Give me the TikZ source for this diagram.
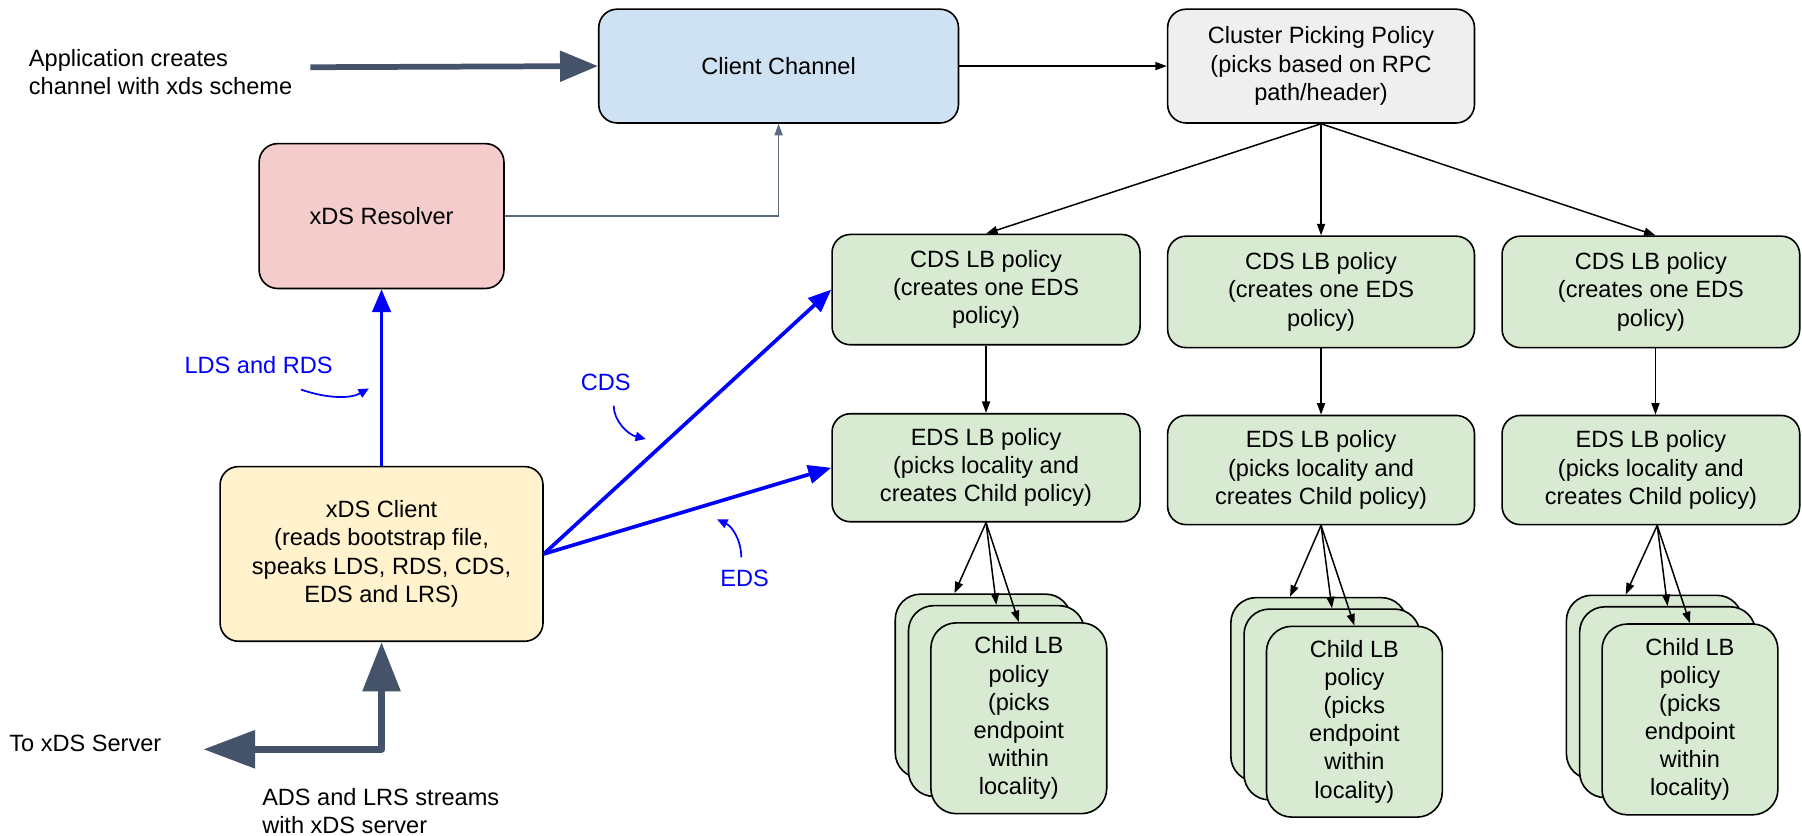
\documentclass[tikz,border=0pt]{standalone}
\usepackage{fontspec}
\setmainfont{Liberation Sans}
\usetikzlibrary{arrows.meta}
\definecolor{ccblue}{HTML}{CFE2F3}
\definecolor{cpgray}{HTML}{EFEFEF}
\definecolor{respink}{HTML}{F4CCCC}
\definecolor{clyellow}{HTML}{FFF2CC}
\definecolor{lbgreen}{HTML}{D9EAD3}
\definecolor{slate}{HTML}{45536A}
\definecolor{slatethin}{HTML}{5A6A80}
\newcommand\fsz{\fontsize{20.5}{24.5}\selectfont}
\begin{document}
\begin{tikzpicture}[x=1pt,y=-1pt,font=\fsz,inner sep=0pt,
  box/.style={draw=black,line width=1.4pt,rounded corners=16pt,align=center,inner sep=0pt,
    execute at begin node={\rule{0pt}{19.5pt}},
    execute at end node={\rule[-4.4pt]{0pt}{0pt}}},
  greenbox/.style={box,fill=lbgreen},
  childbox/.style={box,fill=lbgreen,minimum width=153pt,rounded corners=22pt},
  blk/.style={draw=black,line width=1.3pt,-{Triangle[length=10pt,width=7pt]}},
  bluearr/.style={draw=blue,line width=3.2pt,-{Triangle[length=20pt,width=16pt]}},
  bluethin/.style={draw=blue,line width=1.5pt,-{Triangle[length=9pt,width=8pt]}},
  lbl/.style={align=left,anchor=west,inner sep=0pt}]
\useasboundingbox (0,0) rectangle (1568,727);

% main boxes
\node[box,fill=ccblue,minimum width=313pt,minimum height=99pt] (cc) at (677.5,57.5) {Client Channel};
\node[box,fill=cpgray,minimum width=267pt,minimum height=99pt] (cpp) at (1149.5,57.5) {Cluster Picking Policy\\(picks based on RPC\\path/header)};
\node[box,fill=respink,minimum width=213pt,minimum height=126pt] (res) at (332,188) {xDS Resolver};
\node[box,fill=clyellow,minimum width=281pt,minimum height=152pt] (xc) at (332,482) {xDS Client\\(reads bootstrap file,\\speaks LDS, RDS, CDS,\\EDS and LRS)};

% CDS row
\node[greenbox,minimum width=268pt,minimum height=96pt] (cds1) at (858,252) {CDS LB policy\\(creates one EDS\\policy)};
\node[greenbox,minimum width=267pt,minimum height=97pt] (cds2) at (1149.5,254) {CDS LB policy\\(creates one EDS\\policy)};
\node[greenbox,minimum width=259pt,minimum height=97pt] (cds3) at (1436.5,254) {CDS LB policy\\(creates one EDS\\policy)};

% EDS row
\node[greenbox,minimum width=268pt,minimum height=94pt] (eds1) at (858,407) {EDS LB policy\\(picks locality and\\creates Child policy)};
\node[greenbox,minimum width=267pt,minimum height=95pt] (eds2) at (1149.5,409) {EDS LB policy\\(picks locality and\\creates Child policy)};
\node[greenbox,minimum width=259pt,minimum height=95pt] (eds3) at (1436.5,409) {EDS LB policy\\(picks locality and\\creates Child policy)};

% child stacks
\foreach \i/\dx/\dy/\sh in {1/0/0/0,2/292/3/0,3/584/1/5.5}{
  \node[childbox,minimum height=160pt] (c\i-back) at (855.5+\dx,597+\dy) {};
  \node[childbox,minimum height=166pt] (c\i-mid) at (867+\dx,610+\dy) {};
  \node[childbox,minimum height=166pt] (c\i-front) at (886.5+\dx,625+\dy) {Child LB\\policy\\(picks\\endpoint\\within\\locality)};
  \draw[blk] ([xshift=\sh pt]eds\i.south) -- ([xshift=-25pt]c\i-back.north);
  \draw[blk] ([xshift=\sh pt]eds\i.south) -- (c\i-mid.north);
  \draw[blk] ([xshift=\sh pt]eds\i.south) -- (c\i-front.north);
}

% black connectors
\draw[blk] (cc.east) -- (cpp.west);
\draw[blk] (cpp.south) -- (cds1.north);
\draw[blk] (cpp.south) -- (cds2.north);
\draw[blk] (cpp.south) -- ([xshift=4pt]cds3.north);
\draw[blk] (cds1.south) -- (eds1.north);
\draw[blk] (cds2.south) -- (eds2.north);
\draw[blk] ([xshift=4pt]cds3.south) -- ([xshift=4pt]eds3.north);

% resolver to client channel
\draw[draw=slatethin,line width=1.3pt,-{Triangle[length=10pt,width=7pt]}] (res.east) -| (cc.south);

% blue arrows
\draw[bluearr] (xc.north) -- (res.south);
\draw[bluearr] (xc.east) -- (cds1.west);
\draw[bluearr] (xc.east) -- (eds1.west);

% labels
\node[lbl] (applbl) at (25,62.5) {Application creates\\channel with xds scheme};
\node[lbl] (srvlbl) at (8,647) {To xDS Server};
\node[lbl] (adslbl) at (228,706) {ADS and LRS streams\\with xDS server};
\node[text=blue] (ldsl) at (225,318) {LDS and RDS};
\node[text=blue] (cdsl) at (527,333) {CDS};
\node[text=blue] (edsl) at (648,503) {EDS};

% small curved arrows
\coordinate (l1) at (262,339);
\coordinate (l2) at (321,338);
\draw[bluethin] (l1) .. controls (285,347) and (305,347) .. (l2);
\coordinate (k1) at (534,353);
\coordinate (k2) at (562,382);
\draw[bluethin] (k1) .. controls (534,366) and (546,378) .. (k2);
\coordinate (e1) at (645,485);
\coordinate (e2) at (624,452);
\draw[bluethin] (e1) .. controls (645,470) and (637,458) .. (e2);

% thick slate arrows
\coordinate (app) at (270,58.5);
\draw[draw=slate,fill=slate,line width=5pt,-{Triangle[length=33pt,width=26pt]}] (app) -- (cc.west);
\coordinate (srv) at (177,652);
\draw[draw=slate,line width=6pt,line join=round,{Triangle[length=45pt,width=32pt]}-{Triangle[length=43pt,width=32pt]}] (srv) -| (xc.south);
\end{tikzpicture}
\end{document}
